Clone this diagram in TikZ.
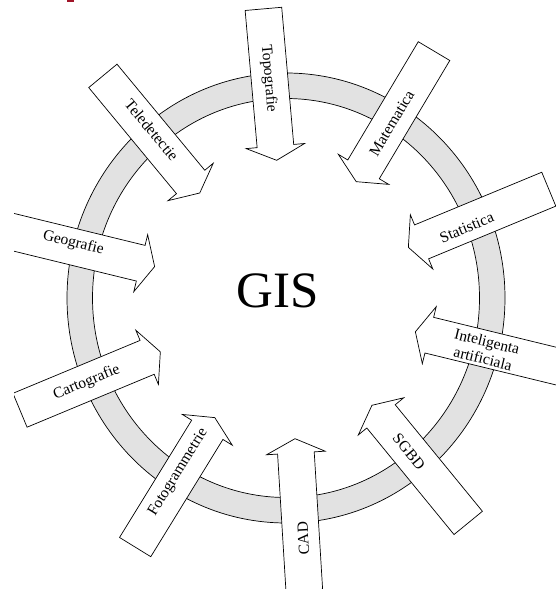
\documentclass[tikz,border=0pt]{standalone}
\usepackage{fontspec}
\setmainfont{Liberation Serif}
\usepackage{tikz}
\usetikzlibrary{shapes.arrows}
\definecolor{inelgri}{RGB}{226,226,226}
\definecolor{rosu}{RGB}{160,20,40}

\begin{document}
\begin{tikzpicture}[x=1pt, y=1pt, line width=0.7pt,
    sageata/.style={single arrow, draw, fill=white, inner xsep=0pt, inner ysep=18pt,
        minimum height=152pt, single arrow head extend=11pt, single arrow tip angle=128, anchor=tip},
    eticheta/.style={font=\fontsize{15.5}{17.5}\selectfont, inner sep=1pt, align=center}]
    \useasboundingbox (0,0) rectangle (555,589);
    \fill[rosu] (66.7,587) rectangle (74,589);
    % inelul
    \fill[inelgri, even odd rule] (286,291) ellipse (219 and 225) (286,291) ellipse (193.5 and 199.5);
    \draw (286,291) ellipse (219 and 225);
    \draw (286,291) ellipse (193.5 and 199.5);
    % sagetile
    \begin{scope}
    \clip (14,0) rectangle (560,589);
    \node[sageata, rotate=-85]   (topo)  at (276.7,428.3) {};
    \node[sageata, rotate=-50.4] (tele)  at (200,395.7) {};
    \node[sageata, rotate=-13.7] (geo)   at (155,322.3) {};
    \node[sageata, rotate=22.6]  (carto) at (160.7,237.3) {};
    \node[sageata, rotate=58.4]  (foto)  at (215,171.7) {};
    \node[sageata, rotate=93.5]  (cad)   at (295,150.7) {};
    \node[sageata, rotate=129.3] (sgbd)  at (371.7,184) {};
    \node[sageata, rotate=166.3] (ia)    at (415,257.3) {};
    \node[sageata, rotate=202.5] (stat)  at (408,341.5) {};
    \node[sageata, rotate=239.2] (mate)  at (356,407) {};
    \end{scope}
    % etichetele
    \node[eticheta, rotate=-85]   (topot)  at (268.5,510.5) {Topografie};
    \node[eticheta, rotate=-50.4] (telet)  at (151.7,459) {Teledetectie};
    \node[eticheta, rotate=-13.7] (geot)   at (73.3,345.7) {Geografie};
    \node[eticheta, rotate=22.6]  (cartot) at (86.7,206.5) {Cartografie};
    \node[eticheta, rotate=58.4]  (fotot)  at (178.3,116.5) {Fotogrammetrie};
    \node[eticheta, rotate=93.5]  (cadt)   at (303.3,50.7) {CAD};
    \node[eticheta, rotate=-50.7] (sgbdt)  at (409,137.3) {SGBD};
    \node[eticheta, rotate=-13.7] (iat)    at (485,239) {Inteligenta\\artificiala};
    \node[eticheta, rotate=22.5]  (statt)  at (466.7,361.5) {Statistica};
    \node[eticheta, rotate=59.2]  (matet)  at (391.7,465.7) {Matematica};
    \node[font=\fontsize{51}{55}\selectfont] (gis) at (277.5,298.5) {GIS};
\end{tikzpicture}
\end{document}
